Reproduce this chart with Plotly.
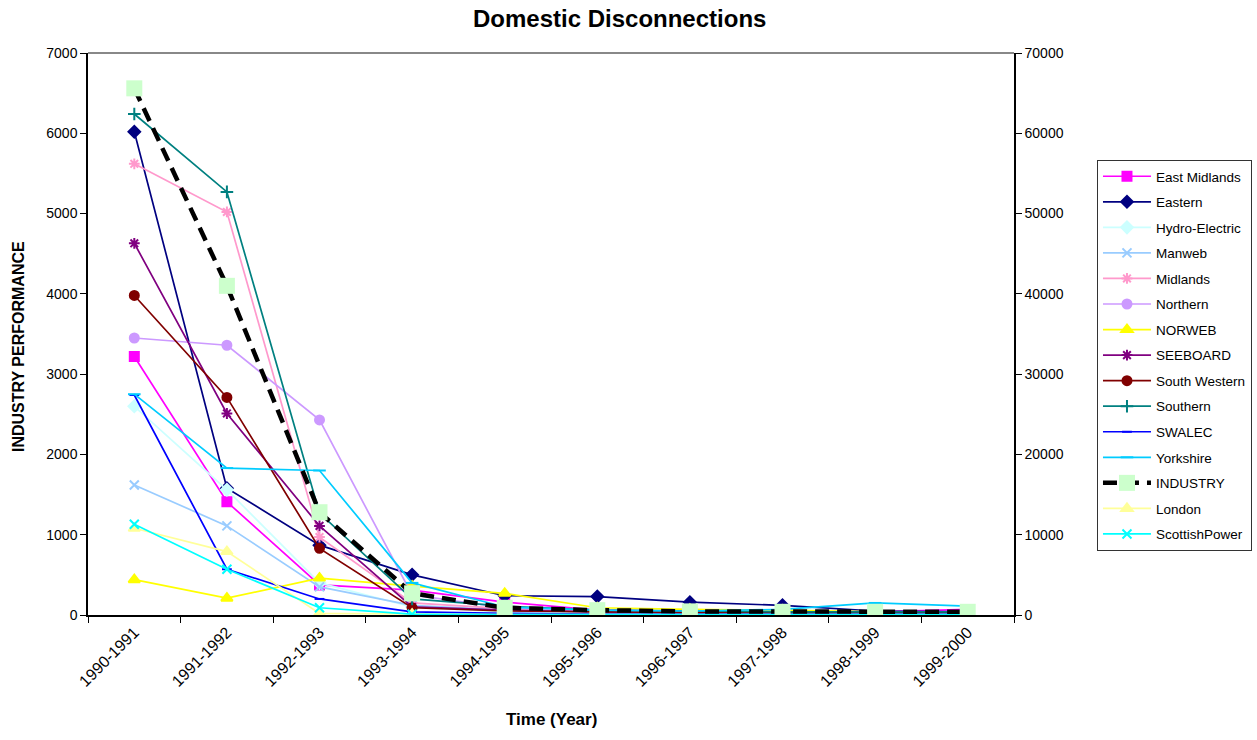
import plotly.graph_objects as go

years = ["1990-1991", "1991-1992", "1992-1993", "1993-1994", "1994-1995",
         "1995-1996", "1996-1997", "1997-1998", "1998-1999", "1999-2000"]

east_midlands = [3220, 1410, 375, 310, 160, 60, 50, 40, 40, 70]
eastern = [6020, 1580, 870, 500, 240, 230, 160, 120, 50, 40]
hydro_electric = [2600, 1560, 400, 100, 40, 20, 20, 20, 20, 20]
manweb = [1620, 1110, 350, 120, 60, 40, 30, 30, 30, 30]
midlands = [5620, 5020, 970, 150, 80, 50, 40, 40, 40, 40]
northern = [3450, 3360, 2430, 250, 90, 50, 40, 40, 40, 40]
norweb = [440, 210, 460, 360, 270, 90, 70, 60, 40, 40]
seeboard = [4630, 2510, 1110, 100, 60, 40, 30, 30, 30, 30]
south_western = [3980, 2710, 830, 90, 50, 40, 30, 30, 30, 30]
southern = [6240, 5270, 1270, 200, 110, 60, 50, 40, 40, 40]
swalec = [2740, 570, 200, 40, 20, 10, 10, 10, 10, 10]
yorkshire = [2750, 1830, 1800, 400, 100, 60, 50, 70, 150, 110]
industry = [65600, 41000, 12800, 2700, 900, 600, 450, 400, 400, 400]
london = [1080, 790, 20, 10, 5, 5, 5, 5, 5, 5]
scottish_power = [1130, 570, 90, 10, 5, 5, 5, 5, 5, 5]

primary = [
    ("East Midlands", east_midlands, "#FF00FF", "square", 9),
    ("Eastern", eastern, "#000080", "diamond", 9),
    ("Hydro-Electric", hydro_electric, "#CCFFFF", "diamond", 9),
    ("Manweb", manweb, "#99CCFF", "x-thin-open", 9),
    ("Midlands", midlands, "#FF99CC", "asterisk-open", 9),
    ("Northern", northern, "#CC99FF", "circle", 9),
    ("NORWEB", norweb, "#FFFF00", "triangle-up", 10),
    ("SEEBOARD", seeboard, "#800080", "asterisk-open", 9),
    ("South Western", south_western, "#800000", "circle", 9),
    ("Southern", southern, "#008080", "cross-thin-open", 9),
    ("SWALEC", swalec, "#0000FF", "line-ew-open", 7),
    ("Yorkshire", yorkshire, "#00CCFF", "line-ew-open", 9),
]
after = [
    ("London", london, "#FFFF99", "triangle-up", 10),
    ("ScottishPower", scottish_power, "#00FFFF", "x-thin-open", 9),
]

fig = go.Figure()
for i, (name, vals, col, sym, sz) in enumerate(primary):
    fig.add_trace(go.Scatter(
        x=years, y=vals, name=name, mode="lines+markers", legendgroup="g%02d" % i,
        line=dict(color=col, width=1.7),
        marker=dict(symbol=sym, size=sz, color=col, line=dict(color=col, width=2)),
    ))

fig.add_trace(go.Scatter(
    x=years, y=industry, name="INDUSTRY", mode="lines+markers", yaxis="y2",
    legendgroup="g12",
    line=dict(color="black", width=4.5, dash="14px,8px"),
    marker=dict(symbol="square", size=16, color="#CCFFCC", line=dict(width=0)),
))

for j, (name, vals, col, sym, sz) in enumerate(after):
    fig.add_trace(go.Scatter(
        x=years, y=vals, name=name, mode="lines+markers", legendgroup="g%02d" % (13 + j),
        line=dict(color=col, width=1.7),
        marker=dict(symbol=sym, size=sz, color=col, line=dict(color=col, width=2)),
    ))

font = "Liberation Sans, Arial, sans-serif"
fig.update_layout(
    width=1257, height=740,
    margin=dict(l=88, r=243, t=53, b=125, autoexpand=False),
    paper_bgcolor="white", plot_bgcolor="white",
    font=dict(family=font, size=13, color="black"),
    title=dict(text="<b>Domestic Disconnections</b>", x=0.493, xanchor="center",
               y=0.975, yanchor="middle", font=dict(size=24)),
    xaxis=dict(
        type="category", categoryorder="array", categoryarray=years,
        tickson="boundaries", ticks="outside", ticklen=6, tickcolor="black",
        showline=True, linecolor="black", linewidth=1.5, showgrid=False,
        tickangle=-45, tickfont=dict(size=16),
        range=[-0.5, 9.5], zeroline=False,
    ),
    yaxis=dict(
        range=[0, 7000], dtick=1000, ticks="outside", ticklen=6, tickcolor="black",
        showline=True, linecolor="black", linewidth=1.5, showgrid=False,
        zeroline=False, tickfont=dict(size=14), tickformat="d",
    ),
    yaxis2=dict(
        range=[0, 70000], dtick=10000, overlaying="y", side="right",
        ticks="outside", ticklen=6, tickcolor="black", tickformat="d",
        showline=True, linecolor="black", linewidth=1.5, showgrid=False,
        zeroline=False, tickfont=dict(size=14),
    ),
    legend=dict(
        xref="container", yref="container",
        x=0.8727, xanchor="left", y=0.7838, yanchor="top",
        bordercolor="#333333", borderwidth=1, bgcolor="white",
        font=dict(size=13.5), tracegroupgap=5, itemwidth=48,
        traceorder="grouped", maxheight=600,
    ),
    annotations=[
        dict(text="<b>INDUSTRY PERFORMANCE</b>", xref="paper", yref="paper",
             x=-0.0756, y=0.4786, textangle=-90, showarrow=False,
             xanchor="center", yanchor="middle", font=dict(size=16)),
        dict(text="<b>Time (Year)</b>", xref="paper", yref="paper",
             x=0.5, y=-0.1868, showarrow=False,
             xanchor="center", yanchor="middle", font=dict(size=17)),
    ],
    shapes=[dict(type="line", xref="paper", yref="paper", x0=0, x1=1, y0=1, y1=1,
                 line=dict(color="#888888", width=2))],
    showlegend=True,
)

fig.write_html("out.html")
